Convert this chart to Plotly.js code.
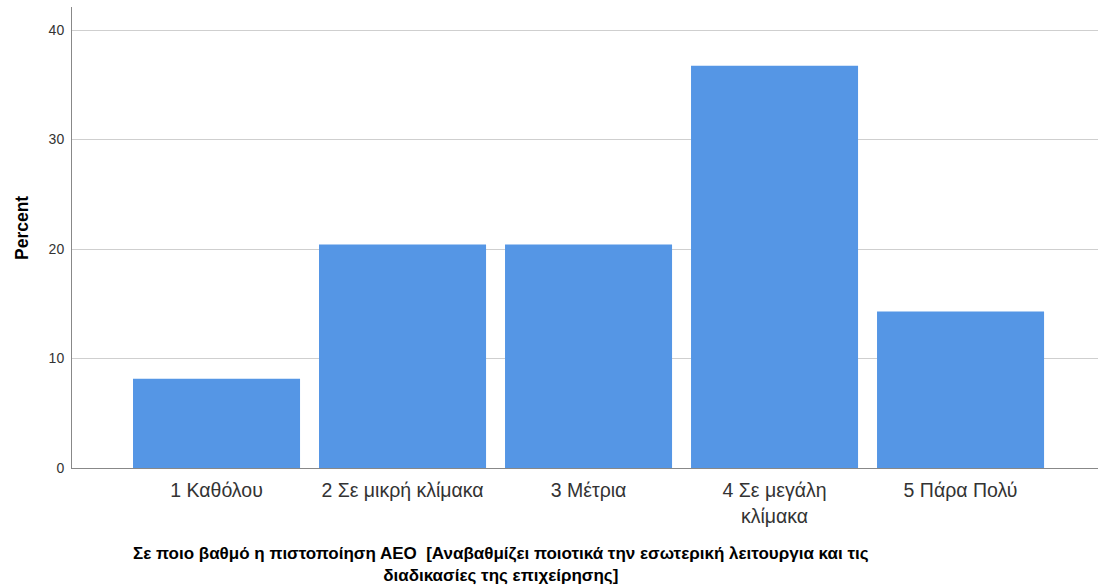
<!DOCTYPE html>
<html><head><meta charset="utf-8">
<script src="https://cdn.plot.ly/plotly-3.0.1.min.js"></script>
<style>body{margin:0;padding:0;background:#fff}#chart{width:1099px;height:588px}</style>
</head><body><div id="chart"></div>
<script>
const categories = ["1 Καθόλου", "2 Σε μικρή κλίμακα", "3 Μέτρια", "4 Σε μεγάλη<br>κλίμακα", "5 Πάρα Πολύ"];
const percents = [8.16, 20.41, 20.41, 36.73, 14.29];
const yTicks = [0, 10, 20, 30, 40];
const xTitleLines = ["Σε ποιο βαθμό η πιστοποίηση ΑΕΟ  [Αναβαθμίζει ποιοτικά την εσωτερική λειτουργια και τις", "διαδικασίες της επιχείρησης]"];
const yTitle = "Percent";

const trace = {
  type: "bar",
  x: categories.map((c, i) => i),
  y: percents,
  width: 0.898,
  marker: {color: "#5596E5", line: {width: 0}},
  hoverinfo: "skip"
};

const FONT = "Liberation Sans, Arial, sans-serif";
const plotH = 461, plotW = 1026, plotL = 72, plotB = 468;
const py = p => (plotB - p) / plotH;
const px = p => (p - plotL) / plotW;

const layout = {
  width: 1099, height: 588,
  margin: {l: 72, r: 1, t: 7, b: 120},
  paper_bgcolor: "#fff", plot_bgcolor: "#fff",
  font: {family: FONT, color: "#333"},
  showlegend: false,
  xaxis: {
    range: [-0.777, 4.739],
    tickmode: "array",
    tickvals: categories.map((c, i) => i),
    ticktext: categories,
    ticks: "",
    ticklabelstandoff: 5,
    tickfont: {size: 19.5, color: "#333", family: FONT},
    showgrid: false,
    zeroline: false,
    showline: true, linecolor: "#888", linewidth: 1,
    fixedrange: true
  },
  yaxis: {
    range: [0, 42.1],
    tickmode: "array",
    tickvals: yTicks,
    ticktext: yTicks.map(String),
    ticks: "",
    ticklabelstandoff: 4,
    tickfont: {size: 14, color: "#333", family: FONT},
    showgrid: true, gridcolor: "#cfcfcf", gridwidth: 1,
    zeroline: false,
    showline: true, linecolor: "#888", linewidth: 1,
    fixedrange: true
  },
  annotations: [
    {text: "<b>" + xTitleLines.join("<br>") + "</b>", xref: "paper", yref: "paper", x: px(501), y: py(564),
     xanchor: "center", yanchor: "middle", showarrow: false, align: "center",
     font: {size: 17, color: "#000", family: FONT}},
    {text: "<b>" + yTitle + "</b>", xref: "paper", yref: "paper", x: px(22), y: py(228),
     xanchor: "center", yanchor: "middle", showarrow: false, textangle: -90,
     font: {size: 17.5, color: "#000", family: FONT}}
  ]
};

Plotly.newPlot("chart", [trace], layout, {displayModeBar: false, staticPlot: true});
</script></body></html>
